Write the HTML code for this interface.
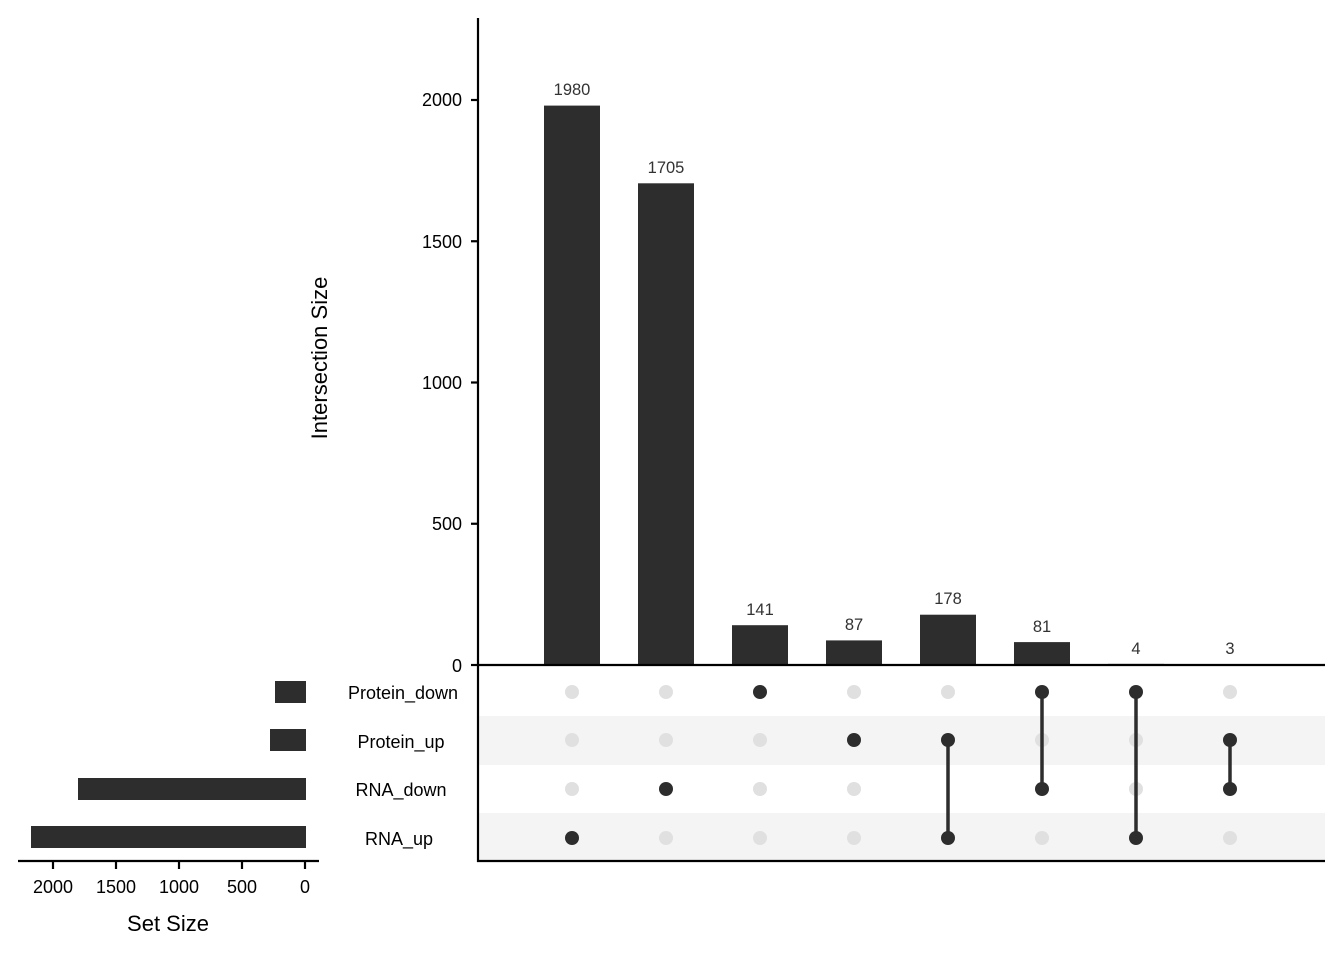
<!DOCTYPE html>
<html><head><style>body{margin:0;background:#fff}svg{display:block;font-family:"Liberation Sans",Arial,sans-serif}</style></head><body>
<svg width="1344" height="960" viewBox="0 0 1344 960">
<rect width="1344" height="960" fill="#fff"/>
<rect x="478" y="716" width="847" height="49" fill="#f4f4f4"/>
<rect x="478" y="813" width="847" height="48" fill="#f4f4f4"/>
<g fill="#2d2d2d">
<rect x="544" y="105.6" width="56" height="559.4"/>
<rect x="638" y="183.3" width="56" height="481.7"/>
<rect x="732" y="625.2" width="56" height="39.8"/>
<rect x="826" y="640.4" width="56" height="24.6"/>
<rect x="920" y="614.7" width="56" height="50.3"/>
<rect x="1014" y="642.1" width="56" height="22.9"/>
<rect x="1108" y="663.9" width="56" height="1.1"/>
<rect x="1202" y="664.2" width="56" height="0.8"/>
</g>
<g font-size="16.5" fill="#333" text-anchor="middle">
<text x="572" y="95">1980</text><text x="666" y="173">1705</text><text x="760" y="615">141</text><text x="854" y="630">87</text><text x="948" y="604">178</text><text x="1042" y="632">81</text><text x="1136" y="654">4</text><text x="1230" y="654">3</text>
</g>
<g stroke="#000" stroke-width="2.2" fill="none">
<line x1="478" y1="18" x2="478" y2="862"/>
<line x1="477" y1="665" x2="1325" y2="665"/>
<line x1="477" y1="861" x2="1325" y2="861"/>
<line x1="471" y1="665" x2="478" y2="665"/><line x1="471" y1="523.75" x2="478" y2="523.75"/><line x1="471" y1="382.5" x2="478" y2="382.5"/><line x1="471" y1="241.25" x2="478" y2="241.25"/><line x1="471" y1="100" x2="478" y2="100"/>
<line x1="18" y1="861" x2="319" y2="861"/>
<line x1="53" y1="861" x2="53" y2="869"/><line x1="116" y1="861" x2="116" y2="869"/><line x1="179" y1="861" x2="179" y2="869"/><line x1="242" y1="861" x2="242" y2="869"/><line x1="305" y1="861" x2="305" y2="869"/>
</g>
<g font-size="18" fill="#000" text-anchor="end">
<text x="462" y="672">0</text><text x="462" y="530">500</text><text x="462" y="389">1000</text><text x="462" y="248">1500</text><text x="462" y="106">2000</text>
</g>
<text transform="translate(327,358) rotate(-90)" font-size="22" text-anchor="middle">Intersection Size</text>
<g font-size="18" fill="#000" text-anchor="middle">
<text x="53" y="893">2000</text><text x="116" y="893">1500</text><text x="179" y="893">1000</text><text x="242" y="893">500</text><text x="305" y="893">0</text>
</g>
<text x="168" y="931" font-size="22" text-anchor="middle">Set Size</text>
<g fill="#2d2d2d">
<rect x="275" y="681" width="31" height="22"/>
<rect x="270" y="729" width="36" height="22"/>
<rect x="78" y="778" width="228" height="22"/>
<rect x="31" y="826" width="275" height="22"/>
</g>
<g font-size="18" fill="#000" text-anchor="middle">
<text x="403" y="699">Protein_down</text><text x="401" y="748">Protein_up</text><text x="401" y="796">RNA_down</text><text x="399" y="845">RNA_up</text>
</g>
<g fill="#e0e0e0">
<circle cx="572" cy="692" r="7"/><circle cx="572" cy="740" r="7"/><circle cx="572" cy="789" r="7"/>
<circle cx="666" cy="692" r="7"/><circle cx="666" cy="740" r="7"/><circle cx="666" cy="838" r="7"/>
<circle cx="760" cy="740" r="7"/><circle cx="760" cy="789" r="7"/><circle cx="760" cy="838" r="7"/>
<circle cx="854" cy="692" r="7"/><circle cx="854" cy="789" r="7"/><circle cx="854" cy="838" r="7"/>
<circle cx="948" cy="692" r="7"/>
<circle cx="1042" cy="740" r="7"/><circle cx="1042" cy="838" r="7"/>
<circle cx="1136" cy="740" r="7"/><circle cx="1136" cy="789" r="7"/>
<circle cx="1230" cy="692" r="7"/><circle cx="1230" cy="838" r="7"/>
</g>
<g stroke="#2d2d2d" stroke-width="3.5">
<line x1="948" y1="740" x2="948" y2="838"/><line x1="1042" y1="692" x2="1042" y2="789"/><line x1="1136" y1="692" x2="1136" y2="838"/><line x1="1230" y1="740" x2="1230" y2="789"/>
</g>
<g fill="#2d2d2d">
<circle cx="572" cy="838" r="7"/><circle cx="666" cy="789" r="7"/><circle cx="760" cy="692" r="7"/><circle cx="854" cy="740" r="7"/>
<circle cx="948" cy="740" r="7"/><circle cx="948" cy="838" r="7"/>
<circle cx="1042" cy="692" r="7"/><circle cx="1042" cy="789" r="7"/>
<circle cx="1136" cy="692" r="7"/><circle cx="1136" cy="838" r="7"/>
<circle cx="1230" cy="740" r="7"/><circle cx="1230" cy="789" r="7"/>
</g>
</svg>
</body></html>
